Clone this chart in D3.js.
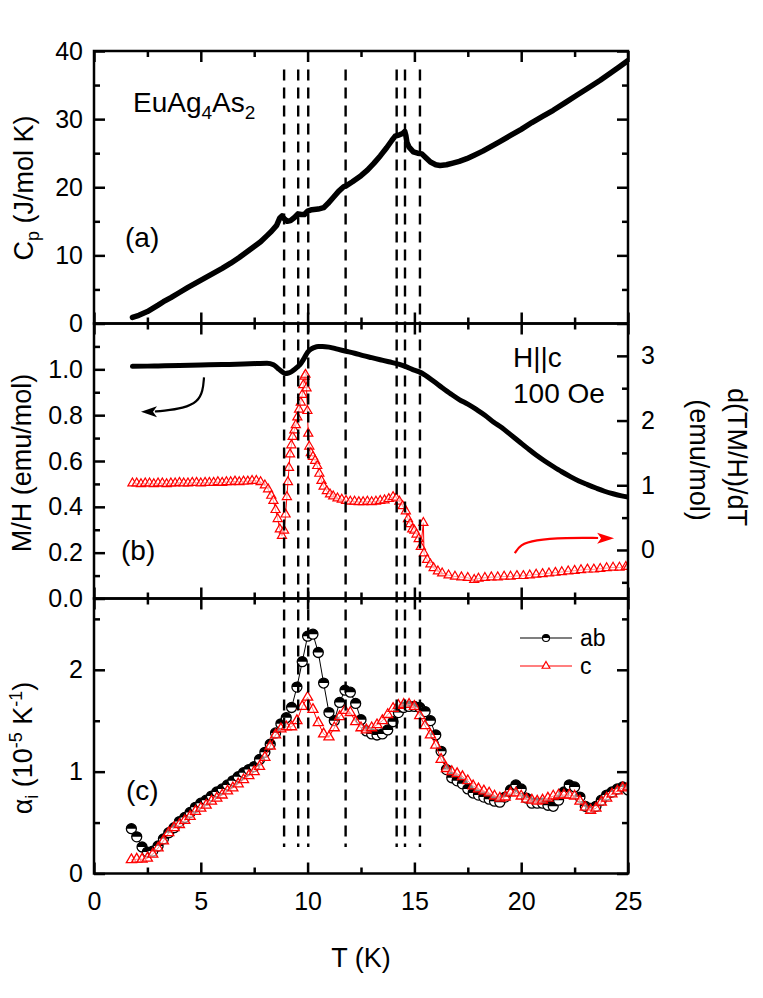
<!DOCTYPE html>
<html><head><meta charset="utf-8">
<script src="https://cdn.jsdelivr.net/npm/d3@7"></script>
<style>body{margin:0;background:#fff}svg{display:block}text{font-family:"Liberation Sans",Arial,Helvetica,sans-serif;fill:#000}</style>
</head><body><svg id="c" width="763" height="998"></svg>
<script>
// ---------------- data ----------------
const CP_DATA = [[1.8,0.9],[2.1,1.2],[2.5,1.75],[3.0,2.7],[3.25,3.2],[3.6,3.8],[4.0,4.55],[4.4,5.3],[4.8,6.0],[5.2,6.7],[5.6,7.4],[6.0,8.1],[6.4,8.85],[6.8,9.7],[7.15,10.5],[7.5,11.3],[7.8,12.0],[8.1,12.9],[8.3,13.5],[8.55,14.4],[8.7,15.5],[8.8,15.8],[8.9,15.4],[9.05,15.0],[9.2,15.1],[9.4,15.6],[9.55,16.1],[9.7,16.0],[9.85,16.0],[10.0,16.5],[10.2,16.7],[10.5,16.8],[10.75,17.0],[10.95,17.6],[11.2,18.5],[11.45,19.4],[11.7,20.1],[11.8,20.2],[12.1,20.8],[12.5,21.7],[12.8,22.5],[13.1,23.5],[13.4,24.6],[13.7,25.8],[13.95,26.9],[14.1,27.5],[14.3,27.7],[14.45,27.9],[14.55,28.2],[14.6,27.6],[14.65,26.6],[14.75,25.9],[14.95,25.2],[15.15,25.0],[15.35,24.9],[15.55,24.3],[15.75,23.7],[16.0,23.3],[16.2,23.2],[16.5,23.3],[16.8,23.55],[17.1,23.8],[17.45,24.2],[17.8,24.7],[18.2,25.3],[18.6,26.0],[19.0,26.7],[19.5,27.6],[20.0,28.5],[20.5,29.5],[21.0,30.4],[21.5,31.3],[22.1,32.5],[22.6,33.5],[23.1,34.5],[23.7,35.7],[24.2,36.8],[24.6,37.7],[25.0,38.6]];

const MH_DATA = [[1.8,1.013],[2.5,1.014],[3,1.015],[4,1.017],[5,1.019],[6,1.021],[7,1.023],[7.6,1.025],[8.1,1.027],[8.4,1.02],[8.6,1.005],[8.8,0.99],[8.95,0.982],[9.1,0.984],[9.25,0.99],[9.4,1.0],[9.55,1.012],[9.7,1.028],[9.85,1.05],[10.0,1.075],[10.15,1.088],[10.3,1.095],[10.5,1.1],[10.7,1.1],[11.0,1.097],[11.4,1.088],[11.8,1.079],[12.2,1.07],[12.6,1.06],[13.0,1.051],[13.4,1.042],[13.8,1.033],[14.3,1.022],[14.6,1.012],[14.9,1.0],[15.2,0.99],[15.5,0.975],[15.9,0.948],[16.3,0.92],[16.7,0.893],[17.1,0.868],[17.5,0.848],[17.9,0.825],[18.3,0.8],[18.7,0.77],[19.1,0.745],[19.5,0.715],[19.9,0.685],[20.3,0.655],[20.7,0.626],[21.1,0.6],[21.5,0.576],[21.9,0.553],[22.3,0.532],[22.7,0.513],[23.1,0.497],[23.5,0.482],[23.9,0.468],[24.3,0.457],[24.7,0.448],[25,0.443]];

const DTMH_DATA = [[1.8,1.03],[2.0,1.03],[2.2,1.02],[2.4,1.03],[2.6,1.03],[2.8,1.02],[3.0,1.03],[3.2,1.03],[3.4,1.02],[3.6,1.03],[3.8,1.03],[4.0,1.04],[4.2,1.03],[4.4,1.03],[4.6,1.04],[4.8,1.04],[5.0,1.03],[5.2,1.04],[5.4,1.04],[5.6,1.04],[5.8,1.05],[6.0,1.04],[6.2,1.05],[6.4,1.05],[6.6,1.06],[6.8,1.05],[7.0,1.06],[7.2,1.06],[7.4,1.07],[7.6,1.07],[7.8,1.05],[8.0,1.0],[8.15,0.94],[8.3,0.84],[8.4,0.76],[8.5,0.62],[8.6,0.48],[8.7,0.32],[8.8,0.22],[8.9,0.3],[8.97,0.55],[9.03,0.82],[9.08,1.05],[9.13,1.27],[9.18,1.48],[9.24,1.62],[9.3,1.75],[9.38,1.85],[9.45,1.93],[9.52,2.05],[9.6,2.17],[9.68,2.28],[9.75,2.4],[9.8,2.55],[9.86,2.68],[9.9,2.71],[9.95,2.5],[9.99,2.15],[10.03,1.8],[10.08,1.6],[10.15,1.5],[10.25,1.44],[10.35,1.38],[10.45,1.3],[10.55,1.18],[10.65,1.07],[10.75,0.98],[10.9,0.91],[11.05,0.86],[11.2,0.83],[11.4,0.8],[11.6,0.78],[11.8,0.76],[12.0,0.75],[12.2,0.75],[12.4,0.74],[12.6,0.74],[12.8,0.75],[13.0,0.74],[13.2,0.75],[13.4,0.76],[13.6,0.77],[13.8,0.79],[14.0,0.82],[14.15,0.8],[14.3,0.75],[14.45,0.68],[14.6,0.6],[14.7,0.48],[14.8,0.4],[14.9,0.32],[15.0,0.3],[15.1,0.24],[15.2,0.17],[15.3,0.05],[15.42,0.42],[15.45,-0.05],[15.6,-0.15],[15.75,-0.22],[15.9,-0.28],[16.1,-0.33],[16.3,-0.36],[16.6,-0.39],[16.9,-0.41],[17.2,-0.42],[17.5,-0.43],[17.8,-0.46],[18.0,-0.44],[18.3,-0.43],[18.6,-0.42],[18.9,-0.42],[19.2,-0.41],[19.5,-0.41],[19.8,-0.4],[20.1,-0.4],[20.4,-0.39],[20.7,-0.38],[21.0,-0.37],[21.3,-0.36],[21.6,-0.35],[21.9,-0.34],[22.2,-0.33],[22.5,-0.32],[22.8,-0.31],[23.1,-0.3],[23.4,-0.3],[23.7,-0.29],[24.0,-0.28],[24.3,-0.27],[24.6,-0.27],[24.9,-0.26],[25.0,-0.26]];

const ALPHA_T = [1.75,2,2.25,2.5,2.75,3,3.25,3.5,3.75,4,4.25,4.5,4.75,5,5.25,5.5,5.75,6,6.25,6.5,6.75,7,7.25,7.5,7.75,8,8.25,8.5,8.75,9,9.25,9.5,9.75,10,10.25,10.5,10.75,11,11.25,11.5,11.75,12,12.25,12.5,12.75,13,13.25,13.5,13.75,14,14.25,14.5,14.75,15,15.25,15.5,15.75,16,16.25,16.5,16.75,17,17.25,17.5,17.75,18,18.25,18.5,18.75,19,19.25,19.5,19.75,20,20.25,20.5,20.75,21,21.25,21.5,21.75,22,22.25,22.5,22.75,23,23.25,23.5,23.75,24,24.25,24.5,24.75,25];
const ALPHA_AB = [0.44,0.36,0.26,0.21,0.22,0.27,0.34,0.40,0.45,0.51,
0.55,0.60,0.65,0.69,0.72,0.76,0.80,0.83,0.87,0.91,
0.95,0.99,1.02,1.05,1.12,1.19,1.27,1.38,1.47,1.53,
1.63,1.83,2.08,2.33,2.35,2.17,1.87,1.58,1.50,1.68,
1.80,1.78,1.67,1.51,1.40,1.37,1.36,1.37,1.41,1.49,
1.58,1.63,1.64,1.64,1.63,1.59,1.50,1.36,1.20,1.02,
0.94,0.91,0.88,0.83,0.79,0.77,0.75,0.73,0.71,0.70,
0.75,0.82,0.87,0.83,0.74,0.69,0.69,0.69,0.67,0.66,
0.72,0.80,0.87,0.85,0.75,0.66,0.64,0.66,0.72,0.77,
0.80,0.83,0.85,0.82];
const ALPHA_C = [0.135,0.14,0.14,0.15,0.19,0.25,0.32,0.40,0.45,0.48,
0.52,0.56,0.61,0.64,0.67,0.71,0.74,0.77,0.81,0.84,
0.88,0.92,0.96,1.00,1.05,1.14,1.25,1.36,1.42,1.44,
1.44,1.50,1.64,1.73,1.61,1.48,1.37,1.34,1.43,1.54,
1.60,1.58,1.49,1.43,1.41,1.43,1.46,1.50,1.56,1.62,
1.65,1.66,1.66,1.64,1.55,1.45,1.36,1.26,1.12,1.03,
1.00,0.98,0.95,0.91,0.86,0.83,0.81,0.79,0.76,0.74,
0.75,0.79,0.79,0.76,0.73,0.72,0.71,0.72,0.74,0.76,
0.77,0.77,0.77,0.76,0.71,0.65,0.62,0.64,0.70,0.74,
0.78,0.81,0.84,0.85];

const TRANSITIONS = [8.9,9.56,10.03,11.78,14.17,14.56,15.26];
const X_MAJOR = [0,5,10,15,20,25], X_MINOR = [2.5,7.5,12.5,17.5,22.5];
const CP_MAJOR = [0,10,20,30,40], CP_MINOR = [5,15,25,35];
const MH_MAJOR = [0,0.2,0.4,0.6,0.8,1.0], MH_MINOR = [0.1,0.3,0.5,0.7,0.9,1.1];
const D_MAJOR = [0,1,2,3], D_MINOR = [-0.5,0.5,1.5,2.5];
const AL_MAJOR = [0,1,2], AL_MINOR = [0.5,1.5,2.5];
const LEGEND = ["ab","c"];
// annotation arrows in data units
const BLACK_ARROW = [[5.15,0.965],[5.1,0.905],[4.85,0.858],[4.2,0.83],[3.2,0.818],[2.85,0.816]];
const BLACK_ARROW_TIP = [2.2,0.815];
const RED_ARROW = [[19.7,-0.05],[19.95,0.08],[20.6,0.155],[22.1,0.19],[23.6,0.185]];
const RED_ARROW_TIP = [24.35,0.18];

// ---------------- setup ----------------
const FONT = '"Liberation Sans", Arial, Helvetica, sans-serif';
const RED = "#ff0000";
const svg = d3.select("#c");
svg.append("rect").attr("width",763).attr("height",998).attr("fill","#fff");

const x = d3.scaleLinear().domain([0,25]).range([94,628]);
const yCp = d3.scaleLinear().domain([0,40]).range([323.5,51]);
const yMH = d3.scaleLinear().domain([0,1.2]).range([598.5,323.5]);
const yD = d3.scaleLinear().domain([-0.75,3.5]).range([598.5,323.5]);
const yAl = d3.scaleLinear().domain([0,2.7]).range([873.5,598.5]);

const defs = svg.append("defs");
function clip(id, y) {
  const r = y.range();
  defs.append("clipPath").attr("id", id).append("rect")
    .attr("x", x(0)).attr("y", Math.min(...r)).attr("width", x(25)-x(0)).attr("height", Math.abs(r[0]-r[1]));
  return svg.append("g").attr("clip-path", `url(#${id})`);
}

// ---------------- panel (a) ----------------
const gA = clip("ca", yCp);
gA.append("path").datum(CP_DATA)
  .attr("d", d3.line().x(d=>x(d[0])).y(d=>yCp(d[1])))
  .attr("fill","none").attr("stroke","#000").attr("stroke-width",5.5)
  .attr("stroke-linejoin","round").attr("stroke-linecap","round");

// ---------------- panel (b) ----------------
const gB = clip("cb", yMH);
const tri = d3.symbol(d3.symbolTriangle, 36);
gB.append("path").datum(DTMH_DATA)
  .attr("d", d3.line().x(d=>x(d[0])).y(d=>yD(d[1])))
  .attr("fill","none").attr("stroke",RED).attr("stroke-width",1);
gB.selectAll("path.dt").data(DTMH_DATA).join("path").attr("class","dt")
  .attr("d", tri).attr("transform", d=>`translate(${x(d[0])},${yD(d[1])})`)
  .attr("fill","#fff").attr("fill-opacity",0.6).attr("stroke",RED).attr("stroke-width",1.2);
gB.append("path").datum(MH_DATA)
  .attr("d", d3.line().curve(d3.curveMonotoneX).x(d=>x(d[0])).y(d=>yMH(d[1])))
  .attr("fill","none").attr("stroke","#000").attr("stroke-width",5)
  .attr("stroke-linejoin","round").attr("stroke-linecap","round");

// arrows
gB.append("path").datum(BLACK_ARROW)
  .attr("d", d3.line().curve(d3.curveBasis).x(d=>x(d[0])).y(d=>yMH(d[1])))
  .attr("fill","none").attr("stroke","#000").attr("stroke-width",2.2);
{
  const tx = x(BLACK_ARROW_TIP[0]), ty = yMH(BLACK_ARROW_TIP[1]);
  gB.append("path").attr("d", `M${tx},${ty}L${tx+16},${ty-5.5}L${tx+12},${ty}L${tx+16},${ty+5.5}Z`).attr("fill","#000");
}
gB.append("path").datum(RED_ARROW)
  .attr("d", d3.line().curve(d3.curveBasis).x(d=>x(d[0])).y(d=>yD(d[1])))
  .attr("fill","none").attr("stroke",RED).attr("stroke-width",2.2);
{
  const tx = x(RED_ARROW_TIP[0]), ty = yD(RED_ARROW_TIP[1]);
  gB.append("path").attr("d", `M${tx},${ty}L${tx-17},${ty-5.5}L${tx-13},${ty}L${tx-17},${ty+5.5}Z`).attr("fill",RED);
}

// ---------------- panel (c) ----------------
const gC = clip("cc", yAl);
const AB = ALPHA_T.map((t,i)=>[t,ALPHA_AB[i]]);
const CC = ALPHA_T.map((t,i)=>[t,ALPHA_C[i]]);
const R_AB = 5;
const halfArc = d3.arc()({innerRadius:0,outerRadius:R_AB,startAngle:-Math.PI/2,endAngle:Math.PI/2});
gC.append("path").datum(AB).attr("d", d3.line().x(d=>x(d[0])).y(d=>yAl(d[1])))
  .attr("fill","none").attr("stroke","#000").attr("stroke-width",1);
{
  const m = gC.selectAll("g.ab").data(AB).join("g").attr("class","ab")
    .attr("transform", d=>`translate(${x(d[0])},${yAl(d[1])})`);
  m.append("circle").attr("r",R_AB).attr("fill","#fff").attr("stroke","#000").attr("stroke-width",1.3);
  m.append("path").attr("d", halfArc).attr("fill","#000");
}
gC.append("path").datum(CC).attr("d", d3.line().x(d=>x(d[0])).y(d=>yAl(d[1])))
  .attr("fill","none").attr("stroke",RED).attr("stroke-width",1);
gC.selectAll("path.cc").data(CC).join("path").attr("class","cc")
  .attr("d", d3.symbol(d3.symbolTriangle, 44)).attr("transform", d=>`translate(${x(d[0])},${yAl(d[1])})`)
  .attr("fill","#fff").attr("fill-opacity",0.5).attr("stroke",RED).attr("stroke-width",1.3);

// legend
{
  const lx0 = 520, lx1 = 572, ly = [638, 666];
  LEGEND.forEach((name,i)=>{
    const col = i===0 ? "#000" : RED;
    svg.append("line").attr("x1",lx0).attr("x2",lx1).attr("y1",ly[i]).attr("y2",ly[i]).attr("stroke",col).attr("stroke-width",1.2);
    const mx = (lx0+lx1)/2;
    if (i===0) {
      const m = svg.append("g").attr("transform",`translate(${mx},${ly[i]})`);
      m.append("circle").attr("r",3.5).attr("fill","#fff").attr("stroke","#000").attr("stroke-width",1.2);
      m.append("path").attr("d", d3.arc()({innerRadius:0,outerRadius:3.5,startAngle:-Math.PI/2,endAngle:Math.PI/2})).attr("fill","#000");
    } else {
      svg.append("path").attr("d", d3.symbol(d3.symbolTriangle, 26)).attr("transform",`translate(${mx},${ly[i]})`)
        .attr("fill","#fff").attr("stroke",RED).attr("stroke-width",1.2);
    }
    svg.append("text").attr("x",580).attr("y",ly[i]+8).attr("font-size",23).text(name);
  });
}

// ---------------- dashed transition lines ----------------
svg.selectAll("line.tr").data(TRANSITIONS).join("line").attr("class","tr")
  .attr("x1", d=>x(d)).attr("x2", d=>x(d))
  .attr("y1", yCp(37.3)).attr("y2", yAl(0.26))
  .attr("stroke","#000").attr("stroke-width",2.4).attr("stroke-dasharray","11,7");

// ---------------- axes / frames ----------------
function styleAxis(a) {
  a.attr("font-family", FONT);
  a.select(".domain").remove();
  a.selectAll("line").attr("stroke","#000").attr("stroke-width",2.5);
  a.selectAll("text").attr("font-size",25).attr("fill","#000");
  return a;
}
const none = () => "";
function frame(y, lMaj, lMin, lFmt, yr, rMaj, rMin, rFmt, xLab) {
  const r = y.range(), bottom = Math.max(...r), top = Math.min(...r);
  const g = svg.append("g");
  styleAxis(g.append("g").attr("transform",`translate(0,${bottom})`)
    .call(d3.axisBottom(x).tickValues(X_MAJOR).tickSize(-11).tickSizeOuter(0).tickPadding(19).tickFormat(xLab ? d3.format("d") : none)));
  styleAxis(g.append("g").attr("transform",`translate(0,${bottom})`)
    .call(d3.axisBottom(x).tickValues(X_MINOR).tickSize(-6).tickSizeOuter(0).tickFormat(none)));
  styleAxis(g.append("g").attr("transform",`translate(0,${top})`)
    .call(d3.axisTop(x).tickValues(X_MAJOR).tickSize(-11).tickSizeOuter(0).tickFormat(none)));
  styleAxis(g.append("g").attr("transform",`translate(0,${top})`)
    .call(d3.axisTop(x).tickValues(X_MINOR).tickSize(-6).tickSizeOuter(0).tickFormat(none)));
  styleAxis(g.append("g").attr("transform",`translate(${x(0)},0)`)
    .call(d3.axisLeft(y).tickValues(lMaj).tickSize(-11).tickSizeOuter(0).tickPadding(11).tickFormat(lFmt)));
  styleAxis(g.append("g").attr("transform",`translate(${x(0)},0)`)
    .call(d3.axisLeft(y).tickValues(lMin).tickSize(-6).tickSizeOuter(0).tickFormat(none)));
  styleAxis(g.append("g").attr("transform",`translate(${x(25)},0)`)
    .call(d3.axisRight(yr).tickValues(rMaj).tickSize(-11).tickSizeOuter(0).tickPadding(13).tickFormat(rFmt)));
  styleAxis(g.append("g").attr("transform",`translate(${x(25)},0)`)
    .call(d3.axisRight(yr).tickValues(rMin).tickSize(-6).tickSizeOuter(0).tickFormat(none)));
  g.append("rect").attr("x",x(0)).attr("y",top).attr("width",x(25)-x(0)).attr("height",bottom-top)
    .attr("fill","none").attr("stroke","#000").attr("stroke-width",2.5);
}
frame(yCp, CP_MAJOR, CP_MINOR, d3.format("d"), yCp, CP_MAJOR, CP_MINOR, none, false);
frame(yMH, MH_MAJOR, MH_MINOR, d3.format(".1f"), yD, D_MAJOR, D_MINOR, d3.format("d"), false);
frame(yAl, AL_MAJOR, AL_MINOR, d3.format("d"), yAl, AL_MAJOR, AL_MINOR, none, true);

// ---------------- titles & annotations ----------------
function txt(xp, yp, size, rot) {
  const t = svg.append("text").attr("font-size", size).attr("font-family", FONT);
  if (rot) t.attr("transform", `translate(${xp},${yp}) rotate(${rot})`).attr("text-anchor","middle");
  else t.attr("x", xp).attr("y", yp);
  return t;
}
txt(361, 967, 27).attr("text-anchor","middle").text("T (K)");
{
  const t = txt(33, 188, 27, -90);
  t.append("tspan").text("C");
  t.append("tspan").attr("font-size",18).attr("dy",6).text("p");
  t.append("tspan").attr("dy",-6).text(" (J/mol K)");
}
txt(31, 463, 27, -90).text("M/H (emu/mol)");
{
  const t = txt(32, 748, 27, -90);
  t.append("tspan").text("α");
  t.append("tspan").attr("font-size",18).attr("dy",6).text("i");
  t.append("tspan").attr("dy",-6).text(" (10");
  t.append("tspan").attr("font-size",18).attr("dy",-10).text("-5");
  t.append("tspan").attr("dy",10).text(" K");
  t.append("tspan").attr("font-size",18).attr("dy",-10).text("-1");
  t.append("tspan").attr("dy",10).text(")");
}
txt(728, 457, 27, 90).text("d(TM/H)/dT");
txt(690, 460, 27, 90).text("(emu/mol)");
{
  const t = txt(133, 112, 28);
  t.append("tspan").text("EuAg");
  t.append("tspan").attr("font-size",19).attr("dy",7).text("4");
  t.append("tspan").attr("dy",-7).text("As");
  t.append("tspan").attr("font-size",19).attr("dy",7).text("2");
}
txt(125, 247, 28).text("(a)");
txt(121, 560, 28).text("(b)");
txt(126, 800, 28).text("(c)");
txt(513, 367, 28).text("H||c");
txt(513, 403, 28).text("100 Oe");
</script>
</body></html>
